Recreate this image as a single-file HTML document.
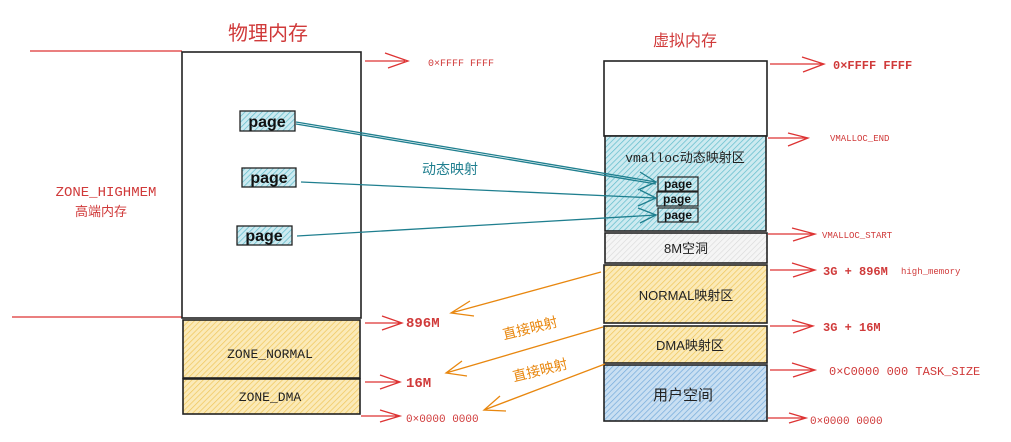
<!DOCTYPE html>
<html><head><meta charset="utf-8"><style>
html,body{margin:0;padding:0;background:#fff;}
svg{display:block;}
text{font-family:"Liberation Sans","Noto Sans CJK SC",sans-serif;}
.m{font-family:"Liberation Mono","Noto Sans CJK SC",monospace;}
</style></head><body>
<svg width="1011" height="442" viewBox="0 0 1011 442" xmlns="http://www.w3.org/2000/svg">
<defs>
<pattern id="hy" width="4" height="4" patternUnits="userSpaceOnUse" patternTransform="rotate(45)"><rect width="4" height="4" fill="#fbeab8"/><line x1="0" y1="0" x2="0" y2="4" stroke="#efc65a" stroke-width="1.4"/></pattern>
<pattern id="hc" width="4" height="4" patternUnits="userSpaceOnUse" patternTransform="rotate(45)"><rect width="4" height="4" fill="#cdeaf0"/><line x1="0" y1="0" x2="0" y2="4" stroke="#5fbccb" stroke-width="1.4"/></pattern>
<pattern id="hb" width="4" height="4" patternUnits="userSpaceOnUse" patternTransform="rotate(45)"><rect width="4" height="4" fill="#c9dff2"/><line x1="0" y1="0" x2="0" y2="4" stroke="#74aadb" stroke-width="1.4"/></pattern>
<pattern id="hg" width="4" height="4" patternUnits="userSpaceOnUse" patternTransform="rotate(45)"><rect width="4" height="4" fill="#f5f5f5"/><line x1="0" y1="0" x2="0" y2="4" stroke="#d8d8d8" stroke-width="1.2"/></pattern>
</defs>

<text x="268" y="40" font-size="20" fill="#d03a3a" text-anchor="middle">物理内存</text>
<text x="685" y="46" font-size="16" fill="#d03a3a" text-anchor="middle">虚拟内存</text>

<line x1="30" y1="51" x2="182" y2="51" stroke="#d33" stroke-width="1.3"/>
<line x1="12" y1="317" x2="182" y2="317" stroke="#d33" stroke-width="1.3"/>

<rect x="182" y="52" width="179" height="266" fill="#fff" stroke="#222" stroke-width="1.6"/>
<rect x="183" y="320" width="177" height="58" fill="url(#hy)" stroke="#222" stroke-width="1.6"/>
<rect x="183" y="379" width="177" height="35" fill="url(#hy)" stroke="#222" stroke-width="1.6"/>
<text x="270" y="358" font-size="13" fill="#222" text-anchor="middle" class="m">ZONE_NORMAL</text>
<text x="270" y="401" font-size="13" fill="#222" text-anchor="middle" class="m">ZONE_DMA</text>

<text x="106" y="196" font-size="14" fill="#d03a3a" text-anchor="middle" class="m">ZONE_HIGHMEM</text>
<text x="101" y="216" font-size="13" fill="#d03a3a" text-anchor="middle">高端内存</text>

<rect x="240" y="111" width="55" height="20" fill="url(#hc)" stroke="#222" stroke-width="1.3"/>
<text x="267" y="127" font-size="16" font-weight="bold" fill="#111" text-anchor="middle">page</text>
<rect x="242" y="168" width="54" height="19" fill="url(#hc)" stroke="#222" stroke-width="1.3"/>
<text x="269" y="183" font-size="16" font-weight="bold" fill="#111" text-anchor="middle">page</text>
<rect x="237" y="226" width="55" height="19" fill="url(#hc)" stroke="#222" stroke-width="1.3"/>
<text x="264" y="241" font-size="16" font-weight="bold" fill="#111" text-anchor="middle">page</text>

<rect x="604" y="61" width="163" height="75" fill="#fff" stroke="#222" stroke-width="1.6"/>
<rect x="605" y="136" width="161" height="95" fill="url(#hc)" stroke="#222" stroke-width="1.6"/>
<rect x="605" y="233" width="162" height="30" fill="url(#hg)" stroke="#222" stroke-width="1.6"/>
<rect x="604" y="265" width="163" height="58" fill="url(#hy)" stroke="#222" stroke-width="1.6"/>
<rect x="604" y="326" width="163" height="37" fill="url(#hy)" stroke="#222" stroke-width="1.6"/>
<rect x="604" y="365" width="163" height="56" fill="url(#hb)" stroke="#222" stroke-width="1.6"/>
<text x="685" y="162" font-size="13" fill="#222" text-anchor="middle"><tspan class="m">vmalloc</tspan>动态映射区</text>
<text x="686" y="253" font-size="13" fill="#222" text-anchor="middle">8M空洞</text>
<text x="686" y="300" font-size="13" fill="#222" text-anchor="middle">NORMAL映射区</text>
<text x="690" y="350" font-size="13" fill="#222" text-anchor="middle">DMA映射区</text>
<text x="683" y="400" font-size="15" fill="#222" text-anchor="middle">用户空间</text>

<rect x="658" y="177" width="40" height="14" fill="url(#hc)" stroke="#222" stroke-width="1.2"/>
<text x="678" y="188" font-size="12" font-weight="bold" fill="#111" text-anchor="middle">page</text>
<rect x="657" y="192" width="41" height="14" fill="url(#hc)" stroke="#222" stroke-width="1.2"/>
<text x="677" y="203" font-size="12" font-weight="bold" fill="#111" text-anchor="middle">page</text>
<rect x="658" y="208" width="40" height="14" fill="url(#hc)" stroke="#222" stroke-width="1.2"/>
<text x="678" y="219" font-size="12" font-weight="bold" fill="#111" text-anchor="middle">page</text>

<g stroke="#1f7f8f" stroke-width="1.3" fill="none">
<path d="M296 122 L656 182"/><path d="M296 124 L656 184"/>
<path d="M301 182 L656 198"/>
<path d="M297 236 L656 215"/>
<path d="M640 172 L656 182 L638 190"/>
<path d="M640 190 L656 198 L638 206"/>
<path d="M638 208 L656 215 L640 223"/>
</g>
<text x="450" y="174" font-size="14" fill="#1f7f8f" text-anchor="middle">动态映射</text>

<g stroke="#d33" stroke-width="1.3" fill="none">
<path d="M365 61 L405 61 M385 53 L408 61 L388 68"/>
<path d="M365 323 L400 323 M382 316 L402 323 L382 330"/>
<path d="M365 382 L398 382 M380 375 L400 382 L380 389"/>
<path d="M361 416 L398 416 M380 410 L400 416 L380 422"/>
</g>
<g fill="#d03a3a">
<text x="428" y="66" font-size="10" class="m">0×FFFF FFFF</text>
<text x="406" y="327" font-size="14" font-weight="bold" class="m">896M</text>
<text x="406" y="387" font-size="14" font-weight="bold" class="m">16M</text>
<text x="406" y="422" font-size="11" class="m">0×0000 0000</text>
</g>

<g stroke="#d33" stroke-width="1.3" fill="none">
<path d="M770 64 L822 64 M802 57 L824 64 L803 72"/>
<path d="M768 138 L806 138 M788 133 L808 138 L788 146"/>
<path d="M768 234 L814 234 M792 228 L815 234 L793 241"/>
<path d="M770 270 L814 270 M792 263 L815 270 L793 277"/>
<path d="M770 326 L812 326 M792 320 L813 326 L793 333"/>
<path d="M770 370 L814 370 M792 363 L815 370 L793 377"/>
<path d="M768 418 L805 418 M789 413 L806 418 L789 423"/>
</g>
<g fill="#d03a3a">
<text x="833" y="69" font-size="12" font-weight="bold" class="m">0×FFFF FFFF</text>
<text x="830" y="141" font-size="9" class="m">VMALLOC_END</text>
<text x="822" y="238" font-size="9" class="m">VMALLOC_START</text>
<text x="823" y="275" font-size="12" font-weight="bold" class="m">3G + 896M</text>
<text x="901" y="274" font-size="9" class="m">high_memory</text>
<text x="823" y="331" font-size="12" font-weight="bold" class="m">3G + 16M</text>
<text x="829" y="375" font-size="12" class="m">0×C0000 000  TASK_SIZE</text>
<text x="810" y="424" font-size="11" class="m">0×0000 0000</text>
</g>

<g stroke="#e8870f" stroke-width="1.3" fill="none">
<path d="M601 272 L451 313 M470 301 L451 313 L474 316"/>
<path d="M603 327 L446 373 M462 361 L446 373 L467 376"/>
<path d="M605 364 L484 410 M500 396 L484 410 L506 411"/>
</g>
<g fill="#e8870f" font-size="14">
<text x="530" y="333" text-anchor="middle" transform="rotate(-14 530 328)">直接映射</text>
<text x="540" y="375" text-anchor="middle" transform="rotate(-14 540 370)">直接映射</text>
</g>
</svg>
</body></html>
